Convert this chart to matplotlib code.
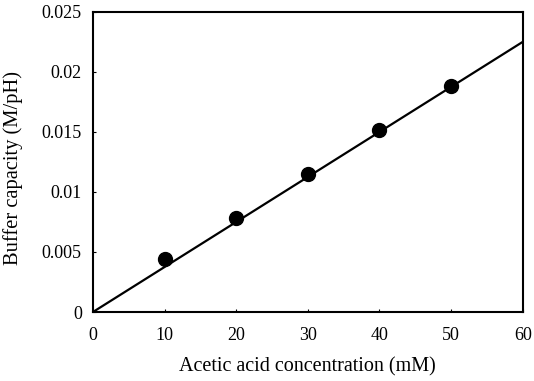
import matplotlib
matplotlib.use("Agg")
import matplotlib.pyplot as plt

# Data
conc_mM = [10, 20, 30, 40, 50]
buffer_capacity = [0.0044, 0.0078, 0.0115, 0.0152, 0.0188]
fit_x = [0, 60]
fit_y = [0.0, 0.0225]

x_ticks = [0, 10, 20, 30, 40, 50, 60]
y_ticks = [0, 0.005, 0.01, 0.015, 0.02, 0.025]
y_tick_labels = ["0", "0.005", "0.01", "0.015", "0.02", "0.025"]

plt.rcParams['font.family'] = ['Liberation Serif', 'DejaVu Serif']

fig = plt.figure(figsize=(5.34, 3.81), dpi=100)
ax = fig.add_axes([0.174, 0.181, 0.805, 0.788])

ax.plot(fit_x, fit_y, color='black', linewidth=1.6, zorder=2)
ax.plot(conc_mM, buffer_capacity, 'o', color='black', markersize=10, zorder=3)

ax.set_xlim(0, 60)
ax.set_ylim(0, 0.025)
ax.set_xticks(x_ticks)
ax.set_xticklabels([str(v) for v in x_ticks])
ax.set_yticks(y_ticks)
ax.set_yticklabels(y_tick_labels)
ax.tick_params(direction='in', length=2.5, width=0.8, labelsize=13)
ax.tick_params(axis='x', pad=11)
ax.tick_params(axis='y', pad=8)

for s in ax.spines.values():
    s.set_linewidth(1.5)

ax.set_xlabel("Acetic acid concentration (mM)", fontsize=14.5)
ax.set_ylabel("Buffer capacity (M/pH)", fontsize=14.8)
ax.xaxis.set_label_coords(0.5, -0.15)
ax.yaxis.set_label_coords(-0.163, 0.48)

fig.savefig("out.png", dpi=100)
